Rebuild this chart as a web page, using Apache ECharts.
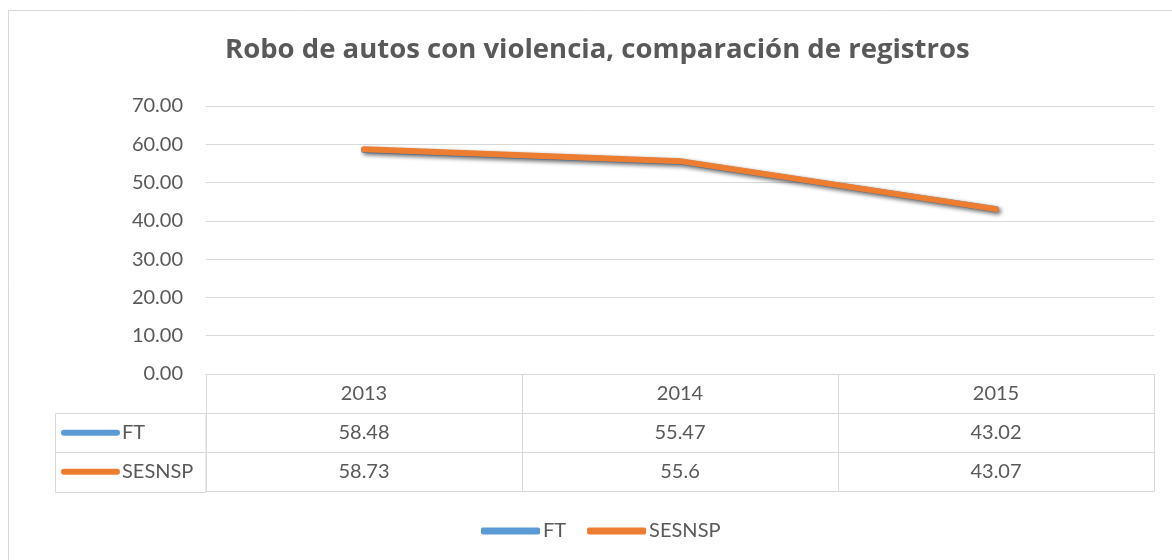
<!DOCTYPE html>
<html>
<head>
<meta charset="utf-8">
<script src="https://cdn.jsdelivr.net/npm/echarts@6/dist/echarts.min.js"></script>
<style>
  html, body { margin: 0; padding: 0; background: #fff; }
  #chart { width: 1172px; height: 560px; }
</style>
</head>
<body>
<div id="chart"></div>
<script>
// data
var years = ['2013', '2014', '2015']
var seriesNames = ['FT', 'SESNSP']
var ftValues = [58.48, 55.47, 43.02]
var sesnspValues = [58.73, 55.6, 43.07]
var yTicks = { min: 0, max: 70, interval: 10 }
var colors = ['#5B9BD5', '#ED7D31']

var textColor = '#595959'
var lineColor = '#D9D9D9'
var font = 'Lato'

var plotLeft = 206
var plotRight = 18
var rowTops = [374, 413, 452]
var rowH = 39.5

// one small grid per table row, the cell text is the axis label
function rowGrid(i) {
  return { left: plotLeft, right: plotRight, top: rowTops[i], height: rowH }
}
function rowXAxis(i, labels) {
  return {
    type: 'category',
    gridIndex: i + 1,
    data: labels,
    axisLine: { show: true, lineStyle: { color: lineColor, width: 1 } },
    axisTick: { show: false },
    splitLine: { show: true, interval: 0, lineStyle: { color: lineColor, width: 1 } },
    axisLabel: {
      inside: true,
      interval: 0,
      margin: rowH / 2,
      verticalAlign: 'middle',
      color: textColor,
      fontFamily: font,
      fontSize: 20
    }
  }
}
function rowYAxis(i) {
  return { type: 'value', gridIndex: i + 1, show: false }
}

var rows = [
  years,
  ftValues.map(function(v) { return String(v) }),
  sesnspValues.map(function(v) { return String(v) })
]

// left column of the table: line swatch + series name
var leftCol = [
  {
    type: 'rect',
    shape: { x: 55.5, y: rowTops[1] + 0.5, width: plotLeft - 55.5, height: rowH * 2 },
    style: { fill: 'none', stroke: lineColor, lineWidth: 1 },
    silent: true
  },
  {
    type: 'line',
    shape: { x1: 55.5, y1: rowTops[2] + 0.5, x2: plotLeft, y2: rowTops[2] + 0.5 },
    style: { stroke: lineColor, lineWidth: 1 },
    silent: true
  }
]
seriesNames.forEach(function(name, i) {
  var cy = rowTops[i + 1] + rowH / 2
  leftCol.push({
    type: 'line',
    shape: { x1: 64, y1: cy, x2: 117, y2: cy },
    style: { stroke: colors[i], lineWidth: 6, lineCap: 'round' },
    silent: true
  })
  leftCol.push({
    type: 'text',
    x: 122,
    y: cy,
    style: {
      text: name,
      fill: textColor,
      font: '20px ' + font,
      verticalAlign: 'middle'
    },
    silent: true
  })
})

var option = {
  backgroundColor: '#fff',
  animation: false,
  color: colors,
  title: {
    text: 'Robo de autos con violencia, comparación de registros',
    left: 220,
    top: 31,
    textStyle: {
      color: textColor,
      fontFamily: 'Open Sans',
      fontSize: 27.5,
      fontWeight: 'bold'
    }
  },
  legend: {
    data: seriesNames,
    left: 476,
    top: 516,
    itemWidth: 59,
    itemHeight: 7,
    itemGap: 21,
    icon: 'roundRect',
    textStyle: { color: textColor, fontFamily: font, fontSize: 20, padding: [0, 0, 0, -2] }
  },
  grid: [
    { left: plotLeft, right: plotRight, top: 106, height: 268 },
    rowGrid(0),
    rowGrid(1),
    rowGrid(2)
  ],
  xAxis: [
    {
      type: 'category',
      gridIndex: 0,
      data: years,
      boundaryGap: true,
      axisLine: { show: true, lineStyle: { color: lineColor, width: 1 } },
      axisTick: { show: false },
      axisLabel: { show: false },
      splitLine: { show: false }
    },
    rowXAxis(0, rows[0]),
    rowXAxis(1, rows[1]),
    rowXAxis(2, rows[2])
  ],
  yAxis: [
    {
      type: 'value',
      gridIndex: 0,
      min: yTicks.min,
      max: yTicks.max,
      interval: yTicks.interval,
      axisLine: { show: false },
      axisTick: { show: false },
      splitLine: { lineStyle: { color: lineColor, width: 1 } },
      axisLabel: {
        margin: 23,
        color: textColor,
        fontFamily: font,
        fontSize: 20,
        formatter: function(v) { return v.toFixed(2) }
      }
    },
    rowYAxis(0),
    rowYAxis(1),
    rowYAxis(2)
  ],
  series: [
    {
      name: seriesNames[0],
      type: 'line',
      data: ftValues,
      symbol: 'none',
      lineStyle: {
        width: 6,
        cap: 'round',
        shadowColor: 'rgba(0,0,0,0.35)',
        shadowBlur: 4,
        shadowOffsetX: 2,
        shadowOffsetY: 2
      }
    },
    {
      name: seriesNames[1],
      type: 'line',
      data: sesnspValues,
      symbol: 'none',
      lineStyle: {
        width: 6,
        cap: 'round',
        shadowColor: 'rgba(0,0,0,0.35)',
        shadowBlur: 4,
        shadowOffsetX: 2,
        shadowOffsetY: 2
      }
    }
  ],
  graphic: [
    {
      type: 'rect',
      shape: { x: 8.5, y: 10.5, width: 1300, height: 700 },
      style: { fill: 'none', stroke: lineColor, lineWidth: 1 },
      silent: true,
      z: -1
    }
  ].concat(leftCol)
}

var chart = echarts.init(document.getElementById('chart'))
chart.setOption(option, true)
window.addEventListener('resize', () => {
  chart.resize()
})
</script>
</body>
</html>
